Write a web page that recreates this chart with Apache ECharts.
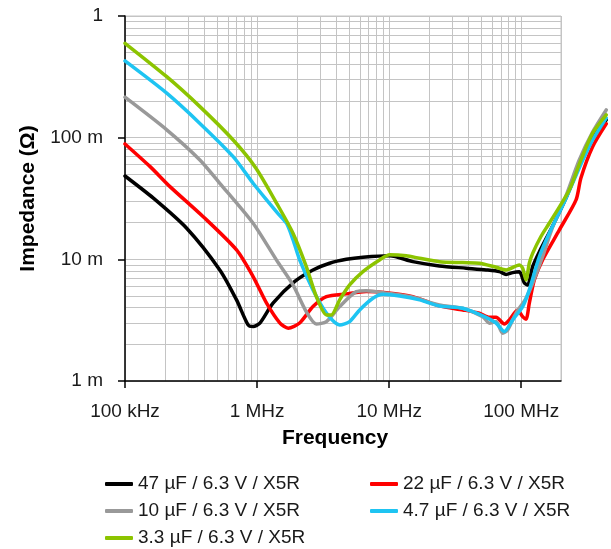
<!DOCTYPE html>
<html>
<head>
<meta charset="utf-8">
<script src="https://cdn.jsdelivr.net/npm/echarts@6/dist/echarts.min.js"></script>
<style>html,body{margin:0;padding:0;background:#fff;}#c{width:611px;height:549px;}</style>
</head>
<body>
<div id="c"></div>
<script>
// Frequency in MHz, impedance in mΩ
const seriesNames = ['47 µF / 6.3 V / X5R','22 µF / 6.3 V / X5R','10 µF / 6.3 V / X5R','4.7 µF / 6.3 V / X5R','3.3 µF / 6.3 V / X5R'];

const black_f = [0.1,0.164,0.293,0.522,0.699,0.855,0.933,1.05,1.32,1.93,2.65,3.54,4.74,6.33,10.1,15.1,24.0,38.3,54.2,68.3,76.8,86.1,96.7,105.5,111.8,122,137,172,218,275,347,440];
const black_z = [48.4,31.8,18.0,8.18,4.64,2.89,2.80,2.99,4.36,6.58,8.18,9.29,10.0,10.4,10.7,9.57,8.83,8.45,8.18,7.93,7.52,7.78,7.89,6.40,6.16,8.71,11.5,18.6,31.9,58.6,98.5,140];

const red_f = [0.1,0.155,0.219,0.391,0.699,0.933,1.18,1.49,1.72,2.10,2.65,3.35,4.74,6.71,9.51,15.1,24.0,36.1,48.2,57.4,64.5,74.5,81.3,93.9,102.5,108.7,115.1,125.6,145,194,260,283,347,440];
const red_z = [88.8,57.8,39.6,22.4,11.95,7.21,4.36,2.99,2.72,3.00,4.09,4.94,5.20,5.43,5.32,4.94,4.14,3.84,3.61,3.34,3.34,2.94,3.18,3.84,3.38,3.22,4.36,6.77,9.89,17.4,30.8,46.7,84.3,130];

const gray_f = [0.1,0.207,0.369,0.522,0.933,1.40,1.87,2.36,2.81,3.35,4.22,5.64,6.71,9.51,15.1,24.0,36.1,51.1,57.4,64.5,72.3,78.9,91.3,108.7,122,145,172,218,275,347,440];
const gray_z = [215,116,65.6,42.2,19.8,9.89,6.16,3.70,2.94,3.08,4.09,5.43,5.53,5.27,4.88,4.22,3.96,3.38,2.99,3.08,2.47,2.63,3.61,4.79,6.36,10.5,18.1,33.2,65.6,111,169];

const cyan_f = [0.1,0.207,0.369,0.659,0.933,1.18,1.43,1.67,1.87,2.10,2.65,3.35,4.22,5.02,5.98,7.53,8.96,12.0,17.0,24.0,36.1,54.2,64.5,74.5,86.1,102.5,115.1,137,163,212,275,347,440];
const cyan_z = [427,232,131,69.8,42.2,30.8,24.0,19.8,14.5,9.89,5.61,3.61,2.89,3.08,3.84,4.79,5.17,5.00,4.64,4.14,3.96,3.34,2.99,2.55,3.18,4.09,5.61,10.5,16.4,29.6,56.4,95.7,145];

const green_f = [0.1,0.207,0.369,0.659,0.978,1.43,1.87,2.36,2.81,3.35,3.65,4.22,5.02,6.33,8.46,10.1,13.5,17.0,24.0,36.1,48.2,64.5,76.8,96.7,102.5,108.7,115.1,122,141,163,231,283,347,440];
const green_z = [597,317,180,95.7,56.4,28.0,16.4,8.71,4.94,3.49,3.49,4.64,6.16,7.93,9.89,10.9,10.7,10.2,9.57,9.40,9.29,8.61,8.18,8.99,8.45,6.77,9.29,11.2,15.4,19.8,37.2,65.6,109,154];

const xMin = 0.1, xMax = 200, xDataMax = 450;
const yMin = 1, yMax = 1000;
const xMajor = [0.1, 1, 10, 100];
const xMajorLabels = ['100 kHz', '1 MHz', '10 MHz', '100 MHz'];
const yMajor = [1, 10, 100, 1000];
const yMajorLabels = ['1 m', '10 m', '100 m', '1'];
const xGrid = [0.1,0.2,0.3,0.4,0.5,0.6,0.7,0.8,0.9,1,2,3,4,5,6,7,8,9,10,20,30,40,50,60,70,80,90,100,200];
const yGrid = [1,2,3,4,5,6,7,8,9,10,20,30,40,50,60,70,80,90,100,200,300,400,500,600,700,800,900,1000];

const colors = ['#000000', '#ff0000', '#999999', '#1ec4f2', '#8cc400'];
const fs = [black_f, red_f, gray_f, cyan_f, green_f];
const zs = [black_z, red_z, gray_z, cyan_z, green_z];

function lookup(vals, labels, v) {
  for (let i = 0; i < vals.length; i++) {
    if (Math.abs(Math.log10(v) - Math.log10(vals[i])) < 1e-6) return labels[i];
  }
  return '';
}

const W = 611, H = 549;
const gLeft = 125, gRight = 50, gTop = 16, gBottom = 168;
const gWidth = W - gLeft - gRight;
const gHeight = H - gTop - gBottom;
// overflow grid: same scale, extended to xDataMax so the curves continue past the frame
const g2Width = gWidth * Math.log10(xDataMax / xMin) / Math.log10(xMax / xMin);

const labelFont = '"Liberation Sans", Arial, sans-serif';

const chart = echarts.init(document.getElementById('c'), null, {renderer: 'canvas'});
chart.setOption({
  animation: false,
  backgroundColor: '#ffffff',
  grid: [
    {left: gLeft, top: gTop, width: gWidth, height: gHeight, show: true, borderColor: '#c4c4c4', borderWidth: 1},
    {left: gLeft, top: gTop, width: g2Width, height: gHeight, show: false}
  ],
  xAxis: [
    {
      gridIndex: 0, type: 'log', min: xMin, max: xMax, position: 'bottom',
      axisLine: {show: false}, axisLabel: {show: false},
      axisTick: {show: false, customValues: xGrid},
      splitLine: {show: true, lineStyle: {color: '#c4c4c4', width: 1}},
      minorTick: {show: false}, minorSplitLine: {show: false}
    },
    {
      gridIndex: 0, type: 'log', min: xMin, max: xMax, position: 'bottom',
      axisLine: {show: true, lineStyle: {color: '#000', width: 1.5}},
      axisTick: {show: true, inside: false, length: 7, customValues: xMajor, lineStyle: {color: '#000', width: 1.5}},
      axisLabel: {show: true, customValues: xMajor, margin: 21, fontSize: 19, color: '#1a1a1a', fontFamily: labelFont,
        formatter: v => lookup(xMajor, xMajorLabels, v)},
      splitLine: {show: false},
      name: 'Frequency', nameLocation: 'middle', nameGap: 47,
      nameTextStyle: {fontSize: 21, fontWeight: 'bold', color: '#000', fontFamily: labelFont, padding: [0, 16, 0, 0]}
    },
    {
      gridIndex: 1, type: 'log', min: xMin, max: xDataMax, show: false
    }
  ],
  yAxis: [
    {
      gridIndex: 0, type: 'log', min: yMin, max: yMax, position: 'left',
      axisLine: {show: false}, axisLabel: {show: false},
      axisTick: {show: false, customValues: yGrid},
      splitLine: {show: true, lineStyle: {color: '#c4c4c4', width: 1}},
      minorTick: {show: false}, minorSplitLine: {show: false}
    },
    {
      gridIndex: 0, type: 'log', min: yMin, max: yMax, position: 'left',
      axisLine: {show: true, lineStyle: {color: '#000', width: 1.5}},
      axisTick: {show: true, inside: false, length: 7, customValues: yMajor, lineStyle: {color: '#000', width: 1.5}},
      axisLabel: {show: true, customValues: yMajor, margin: 22, fontSize: 19, color: '#1a1a1a', fontFamily: labelFont,
        formatter: v => lookup(yMajor, yMajorLabels, v)},
      splitLine: {show: false},
      name: 'Impedance (Ω)', nameLocation: 'middle', nameGap: 86, nameRotate: 90,
      nameTextStyle: {fontSize: 21, fontWeight: 'bold', color: '#000', fontFamily: labelFont}
    },
    {
      gridIndex: 1, type: 'log', min: yMin, max: yMax, show: false
    }
  ],
  legend: [
    {
      left: 105, top: 474, padding: 0, orient: 'vertical', itemWidth: 28, itemHeight: 4, itemGap: 7, icon: 'roundRect',
      data: [seriesNames[0], seriesNames[2], seriesNames[4]],
      textStyle: {fontSize: 19, lineHeight: 20, color: '#1a1a1a', fontFamily: labelFont}
    },
    {
      left: 370, top: 474, padding: 0, orient: 'vertical', itemWidth: 28, itemHeight: 4, itemGap: 7, icon: 'roundRect',
      data: [seriesNames[1], seriesNames[3]],
      textStyle: {fontSize: 19, lineHeight: 20, color: '#1a1a1a', fontFamily: labelFont}
    }
  ],
  series: seriesNames.map((n, i) => ({
    name: n, type: 'line', xAxisIndex: 2, yAxisIndex: 2,
    data: fs[i].map((f, k) => [f, zs[i][k]]),
    showSymbol: false, symbol: 'none', smooth: 0.25, clip: false,
    color: colors[i],
    lineStyle: {color: colors[i], width: 3.5, cap: 'round', join: 'round'},
    z: 3 + i
  }))
});
</script>
</body>
</html>
